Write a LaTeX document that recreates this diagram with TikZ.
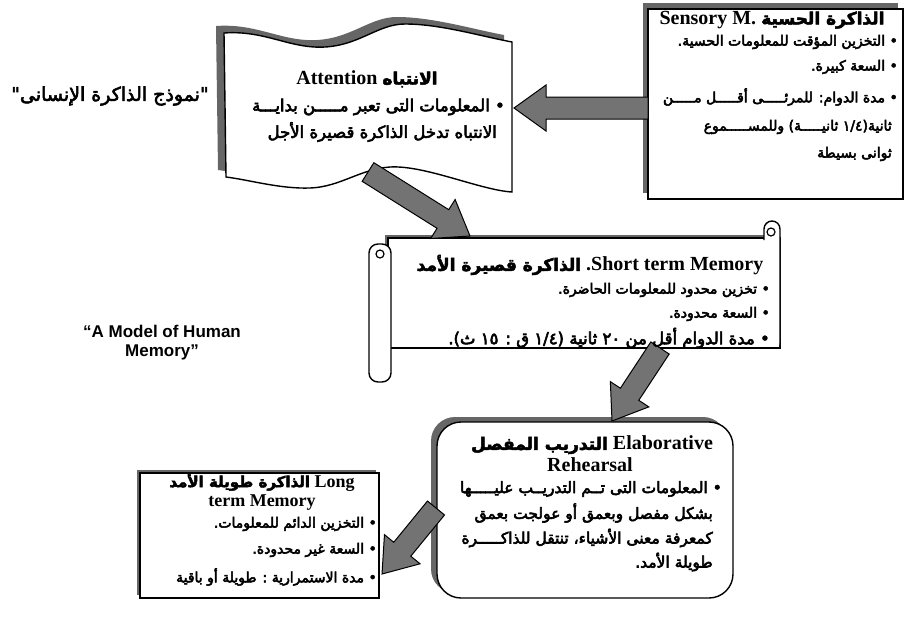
\documentclass[tikz,border=0pt]{standalone}
\usepackage{fontspec}
\setmainfont{Liberation Serif}
\newfontfamily\arabicfont[Script=Arabic, FakeBold=3.5]{DejaVu Sans}
\newfontfamily\arabicheavy[Script=Arabic, FakeBold=3]{DejaVu Sans}
\newfontfamily\modelfont{Liberation Sans}
\TeXXeTstate=1
\usetikzlibrary{calc}

% right-to-left line and arabic piece of a heading
\newcommand{\rl}[1]{\beginR #1\endR}
\newcommand{\arhead}[1]{{\arabicheavy\fontsize{17}{19}\selectfont\beginR #1\endR}}
% fat gray arrow: tail, tip, name of the head base
\newcommand{\bigarrow}[3]{%
  \coordinate (#3) at ($(#2)!32pt!(#1)$);
  \draw[arrowfill] ($(#1)!11pt!90:(#2)$) -- ($(#3)!11pt!90:(#2)$) -- ($(#3)!23pt!90:(#2)$) -- (#2)
    -- ($(#3)!23pt!-90:(#2)$) -- ($(#3)!11pt!-90:(#2)$) -- ($(#1)!11pt!-90:(#2)$) -- cycle;}
\newcommand{\attpath}{(224,33) .. controls (265,30) and (290,49) .. (325,47) .. controls (360,45) and (378,24) .. (405,24)
  .. controls (440,24) and (480,36) .. (512,42) -- (512,192) .. controls (480,190) and (425,165) .. (390,167)
  .. controls (360,169) and (340,187) .. (310,188) .. controls (280,189) and (250,180) .. (226,177) -- cycle}

\begin{document}
\begin{tikzpicture}[x=1pt,y=-1pt,
  box/.style={draw=black, line width=1.4pt, fill=white},
  shade/.style={fill=black!60},
  arrowfill/.style={draw=black, line width=1pt, fill=black!55},
  arline/.style={font=\arabicfont\fontsize{14}{16}\selectfont, inner sep=0pt, anchor=east},
  headline/.style={font=\bfseries\fontsize{20}{22}\selectfont, inner sep=0pt},
]
\useasboundingbox (0,0) rectangle (910,619);

% sensory memory
\fill[shade] (643,3) rectangle (898,193);
\draw[box] (648,9) rectangle (903,199);
% attention
\fill[shade, shift={(-8,-7)}] \attpath;
\draw[box] \attpath;
% short term memory scroll
\fill[shade] (385,235) rectangle (777,345);
\draw[box] (388,238) rectangle (780,348);
\draw[box] (764,240) -- (764,229) arc[start angle=180, end angle=360, radius=8] -- (780,348);
\draw[line width=1.2pt] (771,232) circle (4pt);
\draw[box, rounded corners=9pt] (369,244) rectangle (391,382);
\draw[line width=1.2pt] (380,254) circle (4pt);
% elaborative rehearsal
\fill[shade, rounded corners=24pt] (431,417) rectangle (727,593);
\draw[box, rounded corners=24pt] (437,422) rectangle (733,598);
% long term memory
\fill[shade] (137,470) rectangle (376,595);
\draw[box] (140,473) rectangle (379,598);

% arrows
\coordinate (senstail) at (648,108);
\coordinate (atttip) at (514,108);
\bigarrow{senstail}{atttip}{a1base}
\coordinate (atttail) at (368,172);
\coordinate (sttip) at (470,236);
\bigarrow{atttail}{sttip}{a2base}
\coordinate (sttail) at (660,348);
\coordinate (eltip) at (612,421);
\bigarrow{sttail}{eltip}{a3base}
\coordinate (eltail) at (436,508);
\coordinate (lttip) at (382,574);
\bigarrow{eltail}{lttip}{a4base}

% titles
\node[font=\arabicheavy\fontsize{19}{21}\selectfont, inner sep=0pt] (titlear) at (110,96) {\rl{"نموذج الذاكرة الإنسانى"}};
\node[font=\modelfont\bfseries\fontsize{17}{19}\selectfont, align=center, inner sep=0pt] (titleen) at (162,343) {“A Model of Human\\Memory”};

% sensory text
\node[headline] (sensH) at (772,20) {Sensory M. \arhead{الذاكرة الحسية}};
\node[arline] (sens1) at (898,42) {\rl{• التخزين المؤقت للمعلومات الحسية.}};
\node[arline] (sens2) at (898,67) {\rl{• السعة كبيرة.}};
\node[arline] (sens3) at (898,97) {\rl{• مدة الدوام: للمرئـــــى أقـــــل مـــــن}};
\node[arline] (sens4) at (892,127) {\rl{ثانية(١/٤ ثانيـــــة)  وللمســـــموع}};
\node[arline] (sens5) at (892,154) {\rl{ثوانى بسيطة}};

% attention text
\node[arline, font=\arabicfont\fontsize{16.5}{18}\selectfont] (att1) at (505,107) {\rl{• المعلومات التى تعبر مـــــن بدايـــة}};
\node[arline, font=\arabicfont\fontsize{16.5}{18}\selectfont] (att2) at (497,132) {\rl{الانتباه تدخل الذاكرة قصيرة الأجل}};
\node[headline] (attH) at (367,79) {Attention \arhead{الانتباه}};

% short term text
\node[headline] (stH) at (590,265) {\arhead{الذاكرة قصيرة الأمد} .Short term Memory};
\node[arline] (st1) at (770,290) {\rl{• تخزين محدود للمعلومات الحاضرة.}};
\node[arline] (st2) at (770,314) {\rl{• السعة محدودة.}};
\node[arline, font=\arabicfont\fontsize{16.5}{18}\selectfont] (st3) at (770,338) {\rl{• مدة الدوام أقل من ٢٠ ثانية (١/٤ ق : ١٥ ث).}};

% elaborative text
\node[headline] (elH1) at (592,445) {\arhead{التدريب المفصل} Elaborative};
\node[headline] (elH2) at (590,465) {Rehearsal};
\node[arline, font=\arabicfont\fontsize{15.5}{17}\selectfont] (el1) at (722,489) {\rl{• المعلومات التى تــم التدريــب عليـــــها}};
\node[arline, font=\arabicfont\fontsize{15.5}{17}\selectfont] (el2) at (713,513) {\rl{بشكل مفصل وبعمق أو عولجت بعمق}};
\node[arline, font=\arabicfont\fontsize{15.5}{17}\selectfont] (el3) at (713,538) {\rl{كمعرفة معنى الأشياء، تنتقل للذاكـــــرة}};
\node[arline, font=\arabicfont\fontsize{15.5}{17}\selectfont] (el4) at (713,562) {\rl{طويلة الأمد.}};

% long term text
\node[headline, font=\bfseries\fontsize{18}{20}\selectfont] (ltH1) at (262,482) {{\arabicheavy\fontsize{15}{17}\selectfont\beginR الذاكرة طويلة الأمد\endR} Long};
\node[headline, font=\bfseries\fontsize{18}{20}\selectfont] (ltH2) at (262,503) {term Memory};
\node[arline] (lt1) at (377,524) {\rl{• التخزين الدائم للمعلومات.}};
\node[arline] (lt2) at (377,550) {\rl{• السعة غير محدودة.}};
\node[arline] (lt3) at (377,577) {\rl{• مدة الاستمرارية : طويلة أو باقية}};
\end{tikzpicture}
\end{document}
